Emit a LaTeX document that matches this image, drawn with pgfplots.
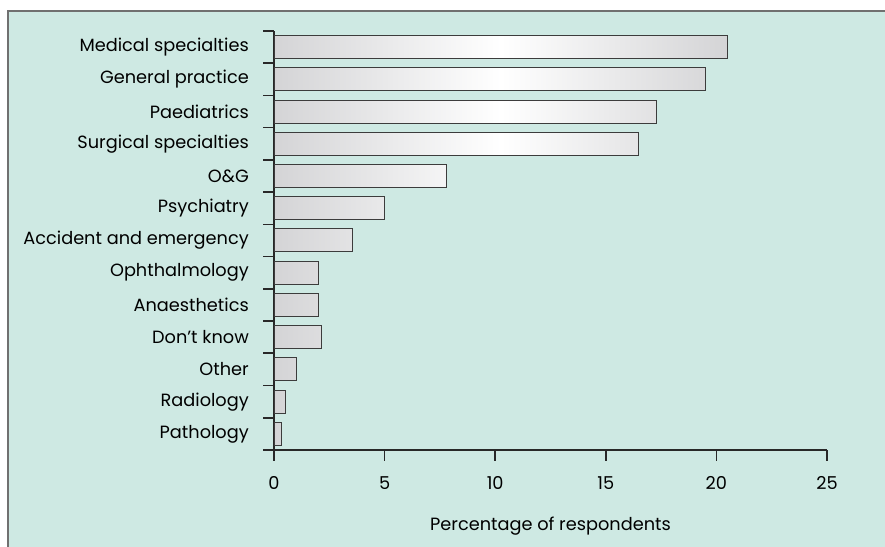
\documentclass[border=0pt]{standalone}
\usepackage{pgfplots}
\pgfplotsset{compat=1.18}
\usepackage{fontspec}
\setmainfont{Poppins}
\definecolor{bg}{RGB}{206,233,227}
\definecolor{framec}{RGB}{112,112,112}
\definecolor{barg}{RGB}{212,212,214}
\definecolor{edgec}{RGB}{60,60,60}
\definecolor{axc}{RGB}{40,40,40}
\begin{document}
\begin{tikzpicture}[x=1bp,y=1bp]
\path[use as bounding box] (0,0) rectangle (885,547);
\fill[bg] (8,0) rectangle (885,536);
\draw[framec, line width=1.6bp] (8,0) -- (8,536) -- (885,536);
\begin{axis}[
  at={(274bp,97bp)}, anchor=south west,
  scale only axis, width=553bp, height=419bp,
  xmin=0, xmax=25, ymin=-0.5, ymax=12.5,
  xbar, bar width=23bp,
  axis x line*=bottom, axis y line*=left,
  axis line style={axc, line width=1.6bp},
  tick align=outside, major tick length=11bp,
  tick style={axc, line width=1.6bp},
  xtick={0,5,...,25},
  ytick={-0.5,0.5,...,12.5}, yticklabels={},
  extra y ticks={0,...,12},
  extra y tick labels={Pathology,Radiology,Other,Don’t know,Anaesthetics,Ophthalmology,Accident and emergency,Psychiatry,O\&G,Surgical specialties,Paediatrics,General practice,Medical specialties},
  extra y tick style={major tick length=0pt, yticklabel style={inner sep=0pt, xshift=-25bp}},
  /pgf/number format/assume math mode=true,
  ticklabel style={font=\fontsize{17.8}{20}\selectfont},
  xticklabel style={yshift=-12bp},
  xlabel={Percentage of respondents},
  every axis x label/.style={at={(axis description cs:0.5,0)}, anchor=base, yshift=-81bp, font=\fontsize{17.8}{20}\selectfont},
  clip=false,
]
\addplot[draw=edgec, line width=1bp, left color=barg, right color=barg, middle color=white]
  coordinates {(0.35,0) (0.5,1) (1.0,2) (2.13,3) (2.0,4) (2.0,5) (3.53,6) (5.0,7) (7.78,8) (16.5,9) (17.3,10) (19.5,11) (20.5,12)};
\end{axis}
\end{tikzpicture}
\end{document}
